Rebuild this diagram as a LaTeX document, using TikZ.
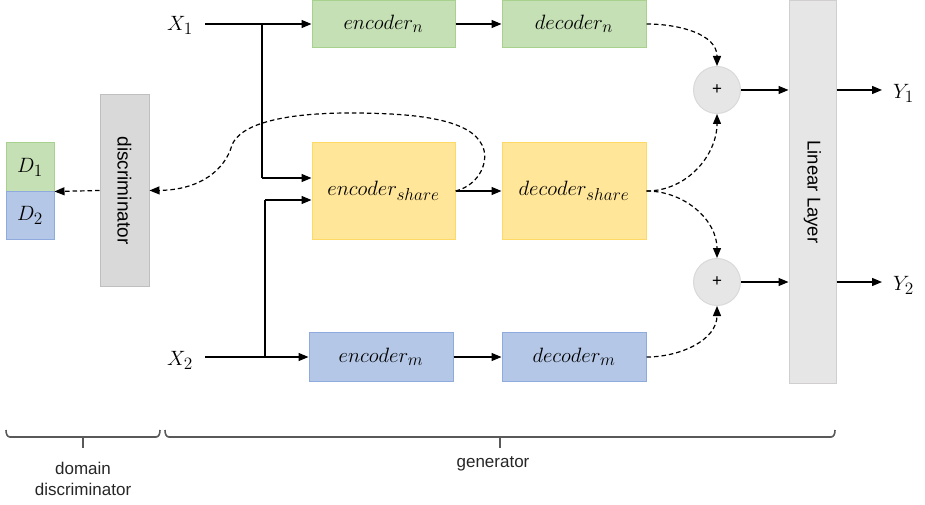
\documentclass[tikz,border=0pt]{standalone}
\usepackage{fontspec}
\setmainfont{Liberation Sans}
\usetikzlibrary{arrows.meta}
\definecolor{gfill}{HTML}{C5E0B4}
\definecolor{gline}{HTML}{A9D18E}
\definecolor{bfill}{HTML}{B4C7E7}
\definecolor{bline}{HTML}{8FAADC}
\definecolor{yfill}{HTML}{FFE699}
\definecolor{yline}{HTML}{FFD966}
\definecolor{dfill}{HTML}{D9D9D9}
\definecolor{dline}{HTML}{BFBFBF}
\definecolor{lfill}{HTML}{E7E6E6}
\definecolor{lline}{HTML}{D0CECE}
\definecolor{brkc}{HTML}{595959}
\newcommand\mtx[1]{\scalebox{1.2}{$#1$}}
\newcommand\sbx[1]{\mbox{\fontsize{13.5}{14}\selectfont$#1$}}
\begin{document}
\begin{tikzpicture}[x=1pt,y=-1pt,
  mfont/.style={font=\fontsize{17.28}{20}\selectfont},
  gbox/.style={draw=gline,fill=gfill,line width=1pt,inner sep=0pt,mfont},
  bbox/.style={draw=bline,fill=bfill,line width=1pt,inner sep=0pt,mfont},
  ybox/.style={draw=yline,fill=yfill,line width=1pt,inner sep=0pt,mfont},
  graybox/.style={draw=dline,fill=dfill,line width=1pt,inner sep=0pt},
  lbox/.style={draw=lline,fill=lfill,line width=1pt,inner sep=0pt},
  plusnode/.style={circle,draw=dfill,fill=lfill,line width=1pt,minimum size=47pt,inner sep=0pt,font=\fontsize{17}{20}\selectfont},
  lbl/.style={inner sep=0pt,mfont},
  arr/.style={line width=1.3pt,-{Triangle[length=10pt,width=8pt]}},
  darr/.style={line width=1.2pt,dash pattern=on 4.5pt off 3pt,-{Triangle[length=10pt,width=8pt]}},
  plain/.style={line width=1.3pt},
  brk/.style={draw=brkc,line width=1.6pt},
  sidelbl/.style={font=\fontsize{17}{21}\selectfont,text=black!85,align=center,inner sep=0pt}
]
\useasboundingbox (0,0) rectangle (925,505);

% discriminator side
\node[gbox,minimum width=48pt,minimum height=48pt] (d1) at (30,167) {\mtx{D_{\sbx{1}}}};
\node[bbox,minimum width=48pt,minimum height=48pt] (d2) at (30,215) {\mtx{D_{\sbx{2}}}};
\node[graybox,minimum width=49pt,minimum height=191pt] (disc) at (124.5,190.5)
  {\rotatebox{-90}{\fontsize{19}{22}\selectfont discriminator}};

% generator
\node[lbl] (x1) at (180,25) {\mtx{X_{\sbx{1}}}};
\node[lbl] (x2) at (180,360) {\mtx{X_{\sbx{2}}}};
\node[gbox,minimum width=143pt,minimum height=47pt] (en) at (383.5,24) {\mtx{encoder_{\sbx{n}}}};
\node[gbox,minimum width=144pt,minimum height=47pt] (dn) at (574,24) {\mtx{decoder_{\sbx{n}}}};
\node[ybox,minimum width=143pt,minimum height=96pt] (es) at (383.5,191) {\mtx{encoder_{\sbx{share}}}};
\node[ybox,minimum width=144pt,minimum height=96pt] (ds) at (574,191) {\mtx{decoder_{\sbx{share}}}};
\node[bbox,minimum width=144pt,minimum height=49pt] (em) at (381,357) {\mtx{encoder_{\sbx{m}}}};
\node[bbox,minimum width=144pt,minimum height=49pt] (dm) at (574,357) {\mtx{decoder_{\sbx{m}}}};
\node[plusnode] (p1) at (717,90) {+};
\node[plusnode] (p2) at (717,282) {+};
\node[lbox,minimum width=47pt,minimum height=382pt] (ll) at (812.5,192)
  {\rotatebox{-90}{\fontsize{18.5}{22}\selectfont Linear Layer}};
\node[lbl,anchor=west] (y1) at (893,93) {\mtx{Y_{\sbx{1}}}};
\node[lbl,anchor=west] (y2) at (893,285) {\mtx{Y_{\sbx{2}}}};

% junction coordinates
\coordinate (j1) at (262,24);
\coordinate (j1b) at (262,178);
\coordinate (j2) at (265,357);
\coordinate (j2b) at (265,200);
\coordinate (o1) at (882,90);
\coordinate (o2) at (882,282);

% solid connectors
\draw[arr] ([xshift=12pt]x1.east |- en.west) -- (en.west);
\draw[plain] (j1) -- (j1b);
\draw[arr] (j1b) -- (es.west |- j1b);
\draw[arr] ([xshift=12pt]x2.east |- em.west) -- (em.west);
\draw[plain] (j2) -- (j2b);
\draw[arr] (j2b) -- (es.west |- j2b);
\draw[arr] (en.east) -- (dn.west);
\draw[arr] (es.east) -- (ds.west);
\draw[arr] (em.east) -- (dm.west);
\draw[arr] (p1.east) -- (ll.west |- p1.east);
\draw[arr] (p2.east) -- (ll.west |- p2.east);
\draw[arr] (ll.east |- o1) -- (o1);
\draw[arr] (ll.east |- o2) -- (o2);

% dashed connectors
\draw[darr] (dn.east) to[out=0,in=90] (p1.north);
\draw[darr] (ds.east) to[out=0,in=-90] (p1.south);
\draw[darr] (ds.east) to[out=0,in=90] (p2.north);
\draw[darr] (dm.east) to[out=0,in=-90] (p2.south);
\draw[darr] (disc.west) -- (d1.south east);
\draw[darr] (es.east) .. controls (480,185) and (490,160) .. (482,145)
  .. controls (470,120) and (420,113) .. (350,113)
  .. controls (280,113) and (240,125) .. (232,145)
  .. controls (225,170) and (200,190) .. (disc.east);

% brackets
\draw[brk] (6,430) to[out=-90,in=180] (10,437) -- (156,437) to[out=0,in=-90] (160,430);
\draw[brk] (83,437) -- (83,448);
\draw[brk] (165,430) to[out=-90,in=180] (169,437) -- (831,437) to[out=0,in=-90] (835,430);
\draw[brk] (500,437) -- (500,448);
\node[sidelbl] (lbd) at (83,479) {domain\\discriminator};
\node[sidelbl] (lbg) at (493,464) {generator};
\end{tikzpicture}
\end{document}
